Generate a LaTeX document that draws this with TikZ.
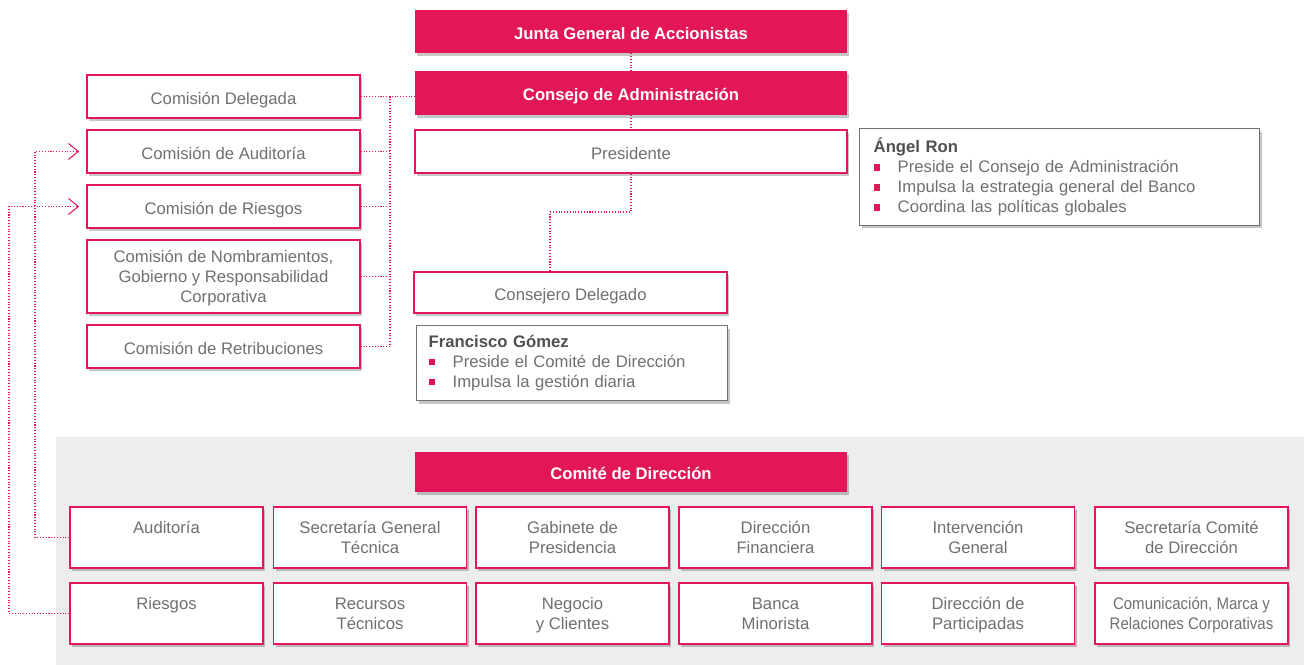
\documentclass[tikz,border=0pt]{standalone}
\usepackage{fontspec}
\setmainfont{Liberation Sans}
\usetikzlibrary{arrows.meta,shadows}

\definecolor{crimson}{RGB}{227,22,88}
\definecolor{txtgray}{RGB}{112,112,112}
\definecolor{ttlgray}{RGB}{80,80,80}
\definecolor{bggray}{RGB}{237,237,237}

\newcommand\sqb{\makebox[0.48cm][l]{\textcolor{crimson}{\rule[0.25ex]{3.6pt}{3.6pt}}}}
\newcommand\tl{\rule{0pt}{10pt}}

\tikzset{
  shd/.style={drop shadow={shadow xshift=1.3pt,shadow yshift=-1.6pt,fill=black,opacity=.22}},
  base/.style={font=\fontsize{9.5}{11.4}\selectfont,align=center,inner sep=0pt,shd},
  stru/.style={execute at begin node={\rule{0pt}{12pt}},execute at end node=\strut},
  rbox/.style={base,stru,fill=crimson,text=white,font=\fontsize{9.5}{11.4}\selectfont\bfseries,minimum width=8.64cm},
  wbox/.style={base,stru,draw=crimson,line width=0.9pt,fill=white,text=txtgray},
  cbox/.style={wbox,minimum width=5.46cm,minimum height=0.86cm},
  gbox/.style={wbox,minimum width=3.86cm,minimum height=1.22cm},
  ibox/.style={base,draw=txtgray,line width=0.8pt,fill=white,text=txtgray,align=left,anchor=north west},
  link/.style={draw=crimson,densely dotted,line width=0.6pt},
  barb/.style={-{Straight Barb[length=0.2cm,width=0.32cm]}}
}

\begin{document}
\begin{tikzpicture}[x=0.02cm,y=-0.02cm]
\useasboundingbox (0,0) rectangle (1304,665);
\fill[bggray] (56,437) rectangle (1304,665);

\node[rbox,minimum height=0.86cm] (junta) at (631,31.5) {Junta General de Accionistas};
\node[rbox,minimum height=0.88cm] (consejo) at (631,93) {Consejo de Administración};
\node[wbox,minimum width=8.64cm,minimum height=0.86cm] (pres) at (631,151.5) {Presidente};
\node[wbox,minimum width=6.26cm,minimum height=0.82cm] (cdelegado) at (570.5,292.5) {Consejero Delegado};

\node[ibox,text width=7.44cm,inner xsep=0.28cm,minimum height=1.94cm] (ron) at (859,128)
  {\textcolor{ttlgray}{\textbf{Ángel Ron}}\\
   \sqb Preside el Consejo de Administración\\
   \sqb Impulsa la estrategia general del Banco\\
   \sqb Coordina las políticas globales};
\node[ibox,text width=5.74cm,inner xsep=0.24cm,minimum height=1.5cm] (gomez) at (416,325)
  {\textcolor{ttlgray}{\textbf{Francisco Gómez}}\\
   \sqb Preside el Comité de Dirección\\
   \sqb Impulsa la gestión diaria};

\node[cbox] (cdel) at (223.5,96.5) {Comisión Delegada};
\node[cbox] (caud) at (223.5,151.5) {Comisión de Auditoría};
\node[cbox] (cries) at (223.5,206.5) {Comisión de Riesgos};
\node[cbox,minimum height=1.46cm] (cnom) at (223.5,276.5) {\tl Comisión de Nombramientos,\\Gobierno y Responsabilidad\\Corporativa};
\node[cbox] (cret) at (223.5,346.5) {Comisión de Retribuciones};

\node[rbox,minimum height=0.80cm] (comite) at (631,472) {Comité de Dirección};

\node[gbox] (audit) at (166.5,537.5) {\tl Auditoría\\~};
\node[gbox] (sgt) at (370,537.5) {\tl Secretaría General\\Técnica};
\node[gbox] (gab) at (572.5,537.5) {\tl Gabinete de\\Presidencia};
\node[gbox] (dfin) at (775.5,537.5) {\tl Dirección\\Financiera};
\node[gbox] (intg) at (978,537.5) {\tl Intervención\\General};
\node[gbox] (scd) at (1191.5,537.5) {\tl Secretaría Comité\\de Dirección};

\node[gbox] (ries) at (166.5,613.5) {\tl Riesgos\\~};
\node[gbox] (rrtt) at (370,613.5) {\tl Recursos\\Técnicos};
\node[gbox] (neg) at (572.5,613.5) {\tl Negocio\\y Clientes};
\node[gbox] (bmin) at (775.5,613.5) {\tl Banca\\Minorista};
\node[gbox] (dpar) at (978,613.5) {\tl Dirección de\\Participadas};
\node[gbox] (com) at (1191.5,613.5) {\tl\scalebox{.9}[1]{Comunicación, Marca y}\\\scalebox{.9}[1]{Relaciones Corporativas}};

\coordinate (bus) at (390,0);
\coordinate (kink) at (550,212);
\coordinate (la) at (35,0);
\coordinate (lr) at (9,0);

\draw[link] (junta) -- (consejo);
\draw[link] (consejo) -- (pres);
\draw[link] (pres.south) |- (kink) -- (kink |- cdelegado.north);

\draw[link] (cdel.east) -- (cdel.east -| consejo.west);
\draw[link] (cdel.east -| bus) -- (cret.east -| bus);
\draw[link] (caud.east) -- (caud.east -| bus);
\draw[link] (cries.east) -- (cries.east -| bus);
\draw[link] (cnom.east) -- (cnom.east -| bus);
\draw[link] (cret.east) -- (cret.east -| bus);

\draw[link,barb] (audit.west) -- (audit.west -| la) |- ([xshift=-0.14cm]caud.west);
\draw[link,barb] (ries.west) -- (ries.west -| lr) |- ([xshift=-0.14cm]cries.west);

\end{tikzpicture}
\end{document}
